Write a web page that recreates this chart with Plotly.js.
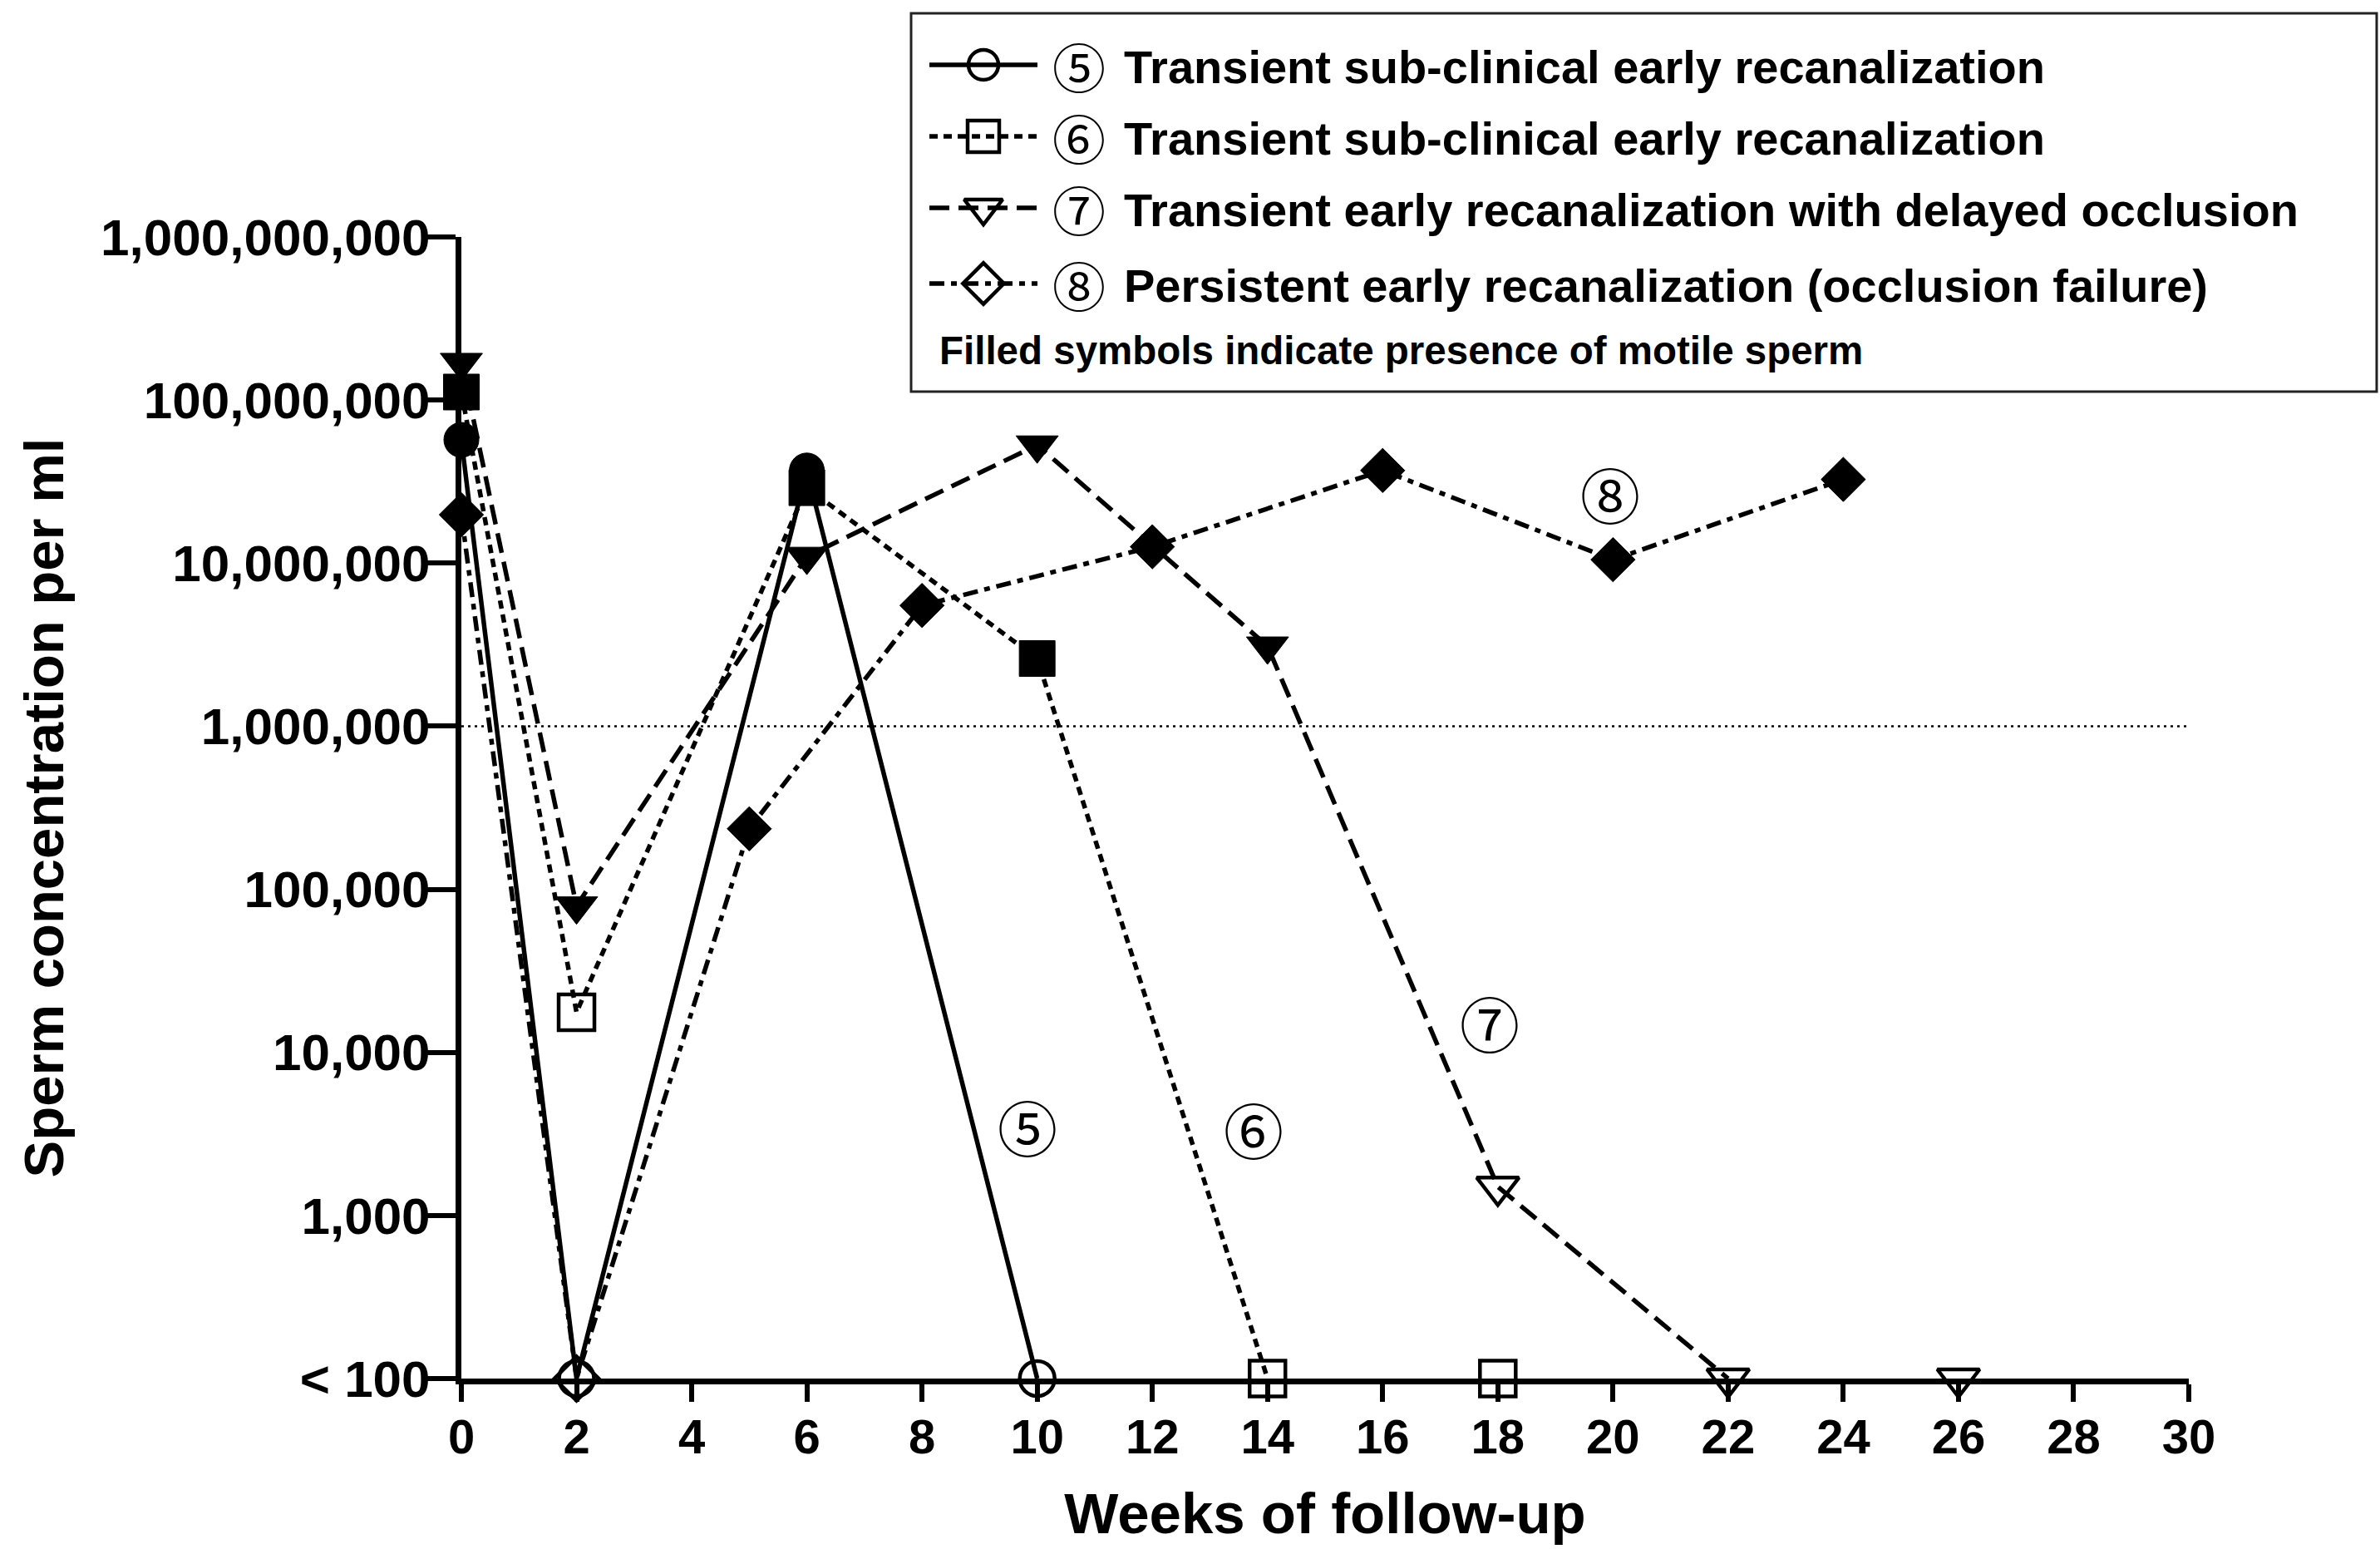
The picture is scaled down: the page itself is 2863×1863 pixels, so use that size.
<!DOCTYPE html>
<html><head><meta charset="utf-8">
<script src="https://cdn.plot.ly/plotly-3.0.1.min.js"></script>
<style>html,body{margin:0;padding:0;background:#fff}</style>
</head><body><div id="chart" style="width:2863px;height:1863px"></div>
<script>
// ---- data (sperm concentration per ml; 100 = "< 100") ----
const weeks5 = [0, 2, 6, 10];
const conc5 = [5.7e7, 100, 3.7e7, 100];
const motile5 = [true, false, true, false];

const weeks6 = [0, 2, 6, 10, 14, 18];
const conc6 = [1.12e8, 1.76e4, 2.9e7, 2.6e6, 100, 100];
const motile6 = [true, false, true, true, false, false];

const weeks7 = [0, 2, 6, 10, 14, 18, 22, 26];
const conc7 = [1.7e8, 7.9e4, 1.1e7, 5.3e7, 3.1e6, 1.5e3, 100, 100];
const motile7 = [true, true, true, true, true, false, false, false];

const weeks8 = [0, 2, 5, 8, 12, 16, 20, 24];
const conc8 = [1.98e7, 100, 2.35e5, 5.5e6, 1.26e7, 3.7e7, 1.05e7, 3.26e7];
const motile8 = [true, false, true, true, true, true, true, true];

const caseMarks = ['\u2464', '\u2465', '\u2466', '\u2467'];
const caseNames = [
  'Transient sub-clinical early recanalization',
  'Transient sub-clinical early recanalization',
  'Transient early recanalization with delayed occlusion',
  'Persistent early recanalization (occlusion failure)'
];
const noteText = 'Filled symbols indicate presence of motile sperm';

// in-plot curve labels (week, concentration)
const labelWeeks = [9.83, 13.76, 17.86, 19.95];
const labelConc = [3550, 3450, 15500, 2.7e7];

// reference threshold line
const thresholdWeeks = [0, 30];
const thresholdConc = [1e6, 1e6];

const detectionFloor = 100;
const yTickVals = [1e2, 1e3, 1e4, 1e5, 1e6, 1e7, 1e8, 1e9];
const yTickText = ['< 100', '1,000', '10,000', '100,000', '1,000,000', '10,000,000', '100,000,000', '1,000,000,000'];
const xTickVals = [0, 2, 4, 6, 8, 10, 12, 14, 16, 18, 20, 22, 24, 26, 28, 30];

// ---- styles ----
const FONT = '"Liberation Sans", Arial, Helvetica, sans-serif';
const CIRC_FONT = '"Noto Sans CJK JP", "DejaVu Sans", sans-serif';
const W = 2863, H = 1863;
const styles = [
  {symbol: 'circle', size: 42, legSize: 36, dash: 'solid'},
  {symbol: 'square', size: 43, legSize: 38, dash: '10px,7px'},
  {symbol: 'triangle-down', size: 44, legSize: 40, dash: '24px,11px'},
  {symbol: 'diamond', size: 41, legSize: 38, dash: '18px,8px,7px,8px'}
];
const seriesX = [weeks5, weeks6, weeks7, weeks8];
const seriesY = [conc5, conc6, conc7, conc8];
const seriesM = [motile5, motile6, motile7, motile8];

// consecutive points both at the "< 100" floor run along the axis line: leave that segment undrawn
function lineArrays(x, y) {
  const lx = [], ly = [];
  for (let k = 0; k < x.length; k++) {
    if (k > 0 && y[k] <= detectionFloor && y[k - 1] <= detectionFloor) { lx.push(null); ly.push(null); }
    lx.push(x[k]); ly.push(y[k]);
  }
  return [lx, ly];
}

const traces = [];
traces.push({
  type: 'scatter', mode: 'lines', x: thresholdWeeks, y: thresholdConc,
  line: {color: '#000', width: 2.5, dash: '3px,5px'}, showlegend: false, hoverinfo: 'skip'
});
const drawOrder = [3, 2, 1, 0];
drawOrder.forEach(i => {
  const st = styles[i];
  const [lx, ly] = lineArrays(seriesX[i], seriesY[i]);
  traces.push({
    type: 'scatter', mode: 'lines', x: lx, y: ly, connectgaps: false,
    cliponaxis: false, showlegend: false, hoverinfo: 'skip',
    line: {color: '#000', width: 5.5, dash: st.dash}
  });
});
drawOrder.forEach(i => {
  const st = styles[i];
  traces.push({
    type: 'scatter', mode: 'markers', x: seriesX[i], y: seriesY[i],
    name: caseMarks[i] + ' ' + caseNames[i], cliponaxis: false, showlegend: false,
    marker: {
      symbol: seriesM[i].map(m => m ? st.symbol : st.symbol + '-open'),
      size: st.size, color: '#000',
      line: {color: '#000', width: seriesM[i].map(m => m ? 1 : 4.5)}
    }
  });
});

// ---- custom legend (pixel-space overlay axes x2/y2) ----
const legRows = [78, 164, 250, 341];
const legLineX = [1118, 1248];
const legMarkX = 1183;
legRows.forEach((ry, i) => {
  const st = styles[i];
  traces.push({type: 'scatter', mode: 'lines', x: legLineX, y: [ry, ry], xaxis: 'x2', yaxis: 'y2',
    line: {color: '#000', width: 5.5, dash: st.dash}, showlegend: false, hoverinfo: 'skip'});
  traces.push({type: 'scatter', mode: 'markers', x: [legMarkX], y: [ry], xaxis: 'x2', yaxis: 'y2',
    marker: {symbol: st.symbol + '-open', size: st.legSize, color: '#000', line: {color: '#000', width: 4.5}},
    showlegend: false, hoverinfo: 'skip', cliponaxis: false});
});

const annotations = [];
legRows.forEach((ry, i) => {
  annotations.push({xref: 'x2', yref: 'y2', x: 1298, y: ry, text: caseMarks[i], showarrow: false,
    xanchor: 'center', yanchor: 'middle', font: {family: CIRC_FONT, size: 64, color: '#000'}});
  annotations.push({xref: 'x2', yref: 'y2', x: 1350, y: ry + 2, text: caseNames[i], showarrow: false,
    xanchor: 'left', yanchor: 'middle', font: {family: FONT, size: 56, color: '#000', weight: 700}});
});
annotations.push({xref: 'x2', yref: 'y2', x: 1128, y: 421, text: noteText, showarrow: false,
  xanchor: 'left', yanchor: 'middle', font: {family: FONT, size: 47.5, color: '#000', weight: 700}});

labelWeeks.forEach((wk, i) => {
  annotations.push({xref: 'x', yref: 'y', x: wk, y: Math.log10(labelConc[i]), text: caseMarks[i],
    showarrow: false, xanchor: 'center', yanchor: 'middle',
    font: {family: CIRC_FONT, size: 72, color: '#000'}});
});

const layout = {
  width: W, height: H,
  margin: {l: 0, r: 0, t: 0, b: 0},
  paper_bgcolor: '#fff', plot_bgcolor: 'rgba(0,0,0,0)',
  showlegend: false,
  xaxis: {
    domain: [555 / W, 2633 / W], range: [0, 30], anchor: 'y',
    tickmode: 'array', tickvals: xTickVals, ticktext: xTickVals.map(String),
    showline: true, linewidth: 7, linecolor: '#000',
    ticks: 'outside', ticklen: 21, tickwidth: 6, tickcolor: '#000',
    showgrid: false, zeroline: false, ticklabelstandoff: -8,
    tickfont: {family: FONT, size: 58, color: '#000', weight: 700},
    title: {text: 'Weeks of follow-up', font: {family: FONT, size: 69, color: '#000', weight: 700}, standoff: 40}
  },
  yaxis: {
    domain: [1 - 1658 / H, 1 - 285 / H], type: 'log', range: [2, 9], anchor: 'x',
    tickmode: 'array', tickvals: yTickVals, ticktext: yTickText,
    showline: true, linewidth: 7, linecolor: '#000',
    ticks: 'outside', ticklen: 34, tickwidth: 6, tickcolor: '#000',
    showgrid: false, zeroline: false, ticklabelstandoff: -16,
    tickfont: {family: FONT, size: 62, color: '#000', weight: 700},
    title: {text: 'Sperm concentration per ml', font: {family: FONT, size: 67, color: '#000', weight: 700}, standoff: 25}
  },
  xaxis2: {domain: [0, 1], range: [0, W], anchor: 'y2', visible: false, fixedrange: true},
  yaxis2: {domain: [0, 1], range: [H, 0], anchor: 'x2', visible: false, fixedrange: true},
  shapes: [{type: 'rect', xref: 'x2', yref: 'y2', x0: 1096, x1: 2859, y0: 16, y1: 471,
    line: {color: '#222', width: 3}, fillcolor: 'rgba(0,0,0,0)'}],
  annotations: annotations
};

Plotly.newPlot('chart', traces, layout, {staticPlot: true, displayModeBar: false});
</script>
</body></html>
